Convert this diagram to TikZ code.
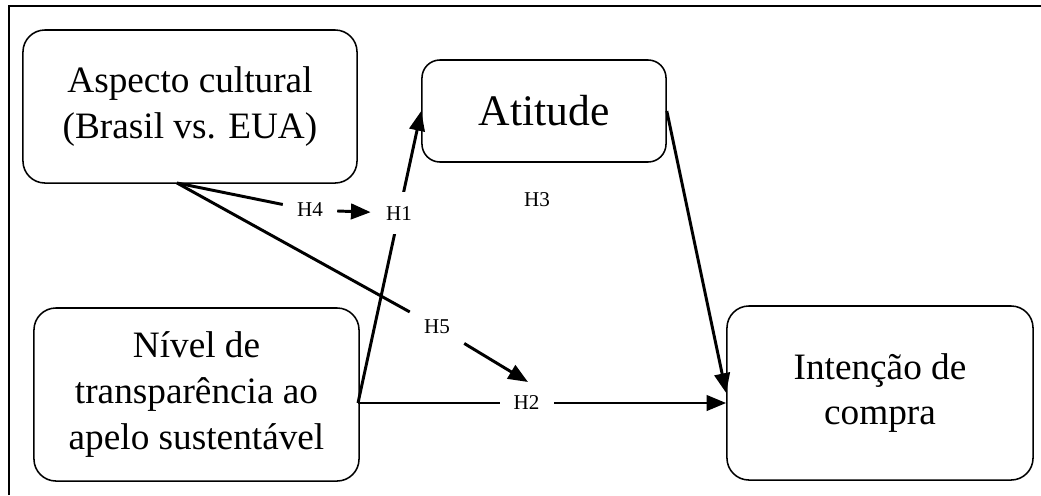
\documentclass[tikz,border=0pt]{standalone}
\usepackage{fontspec}
\setmainfont{Liberation Serif}
\usetikzlibrary{arrows.meta}

\begin{document}
\begin{tikzpicture}
  [x=0.025cm,y=-0.025cm,
   box/.style={draw,line width=1.1pt,rounded corners=0.55cm,align=center,
     font=\fontsize{26.5}{32.5}\selectfont},
   hyp/.style={fill=white,inner sep=10pt,font=\fontsize{15}{18}\selectfont},
   lin/.style={line width=2.1pt},
   arr/.style={line width=2.1pt,-{Triangle[length=14pt,width=11pt]}}]
  \useasboundingbox (0,0) rectangle (1041,495);
  \draw[line width=1.5pt] (9,495) -- (9,6) -- (1041,6);

  \node[box,minimum width=8.35cm,minimum height=3.825cm] (asp) at (190,106.5)
    {Aspecto cultural\\(Brasil vs. EUA)};
  \node[box,minimum width=6.1cm,minimum height=2.55cm,rounded corners=0.45cm,
    font=\fontsize{31}{37}\selectfont] (ati) at (544,111) {Atitude};
  \node[box,minimum width=8.125cm,minimum height=4.325cm] (niv) at (196.5,394.5)
    {N\'ivel de\\transpar\^encia ao\\apelo sustent\'avel};
  \node[box,minimum width=7.65cm,minimum height=4.35cm] (int) at (880,393)
    {Inten\c{c}\~ao de\\compra};

  \coordinate (src) at (358,403);
  \coordinate (a0) at (177,183);
  \coordinate (m2) at (528,382);

  \node[hyp] (h4) at (310,210) {H4};
  \node[hyp] (h5) at (437,327) {H5};
  \node[hyp] (h3) at (537,200) {H3};

  \draw[arr] (src) -- node[hyp,pos=0.65] (h1) {H1} (ati.west);
  \draw[arr] (src) -- node[hyp,pos=0.458] (h2) {H2} (src -| int.west);
  \foreach \from/\to in {a0/h4,a0/h5}
    \draw[lin] (\from) -- (\to);
  \foreach \from/\to in {ati.east/int.west,h4/h1,h5/m2}
    \draw[arr] (\from) -- (\to);

\end{tikzpicture}
\end{document}
